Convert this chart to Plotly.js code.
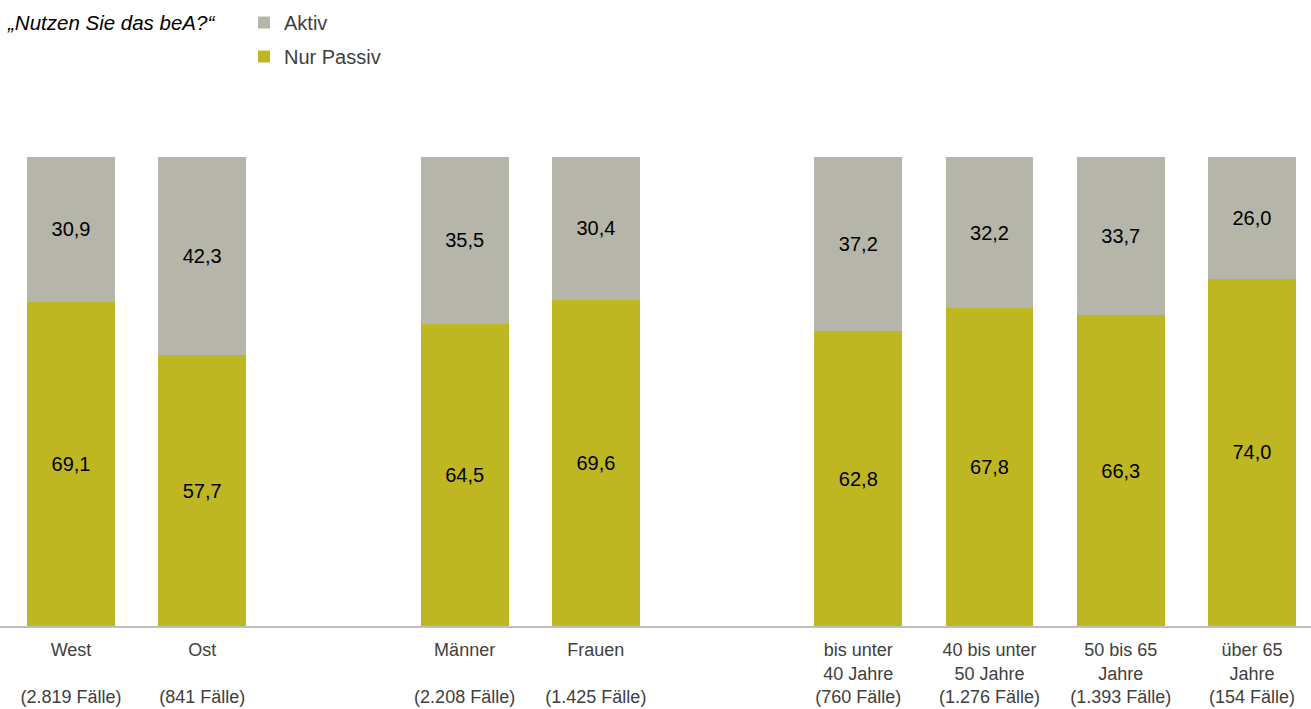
<!DOCTYPE html>
<html>
<head>
<meta charset="utf-8">
<script src="https://cdn.plot.ly/plotly-3.0.1.min.js"></script>
<style>html,body{margin:0;padding:0;background:#fff;}#chart{width:1311px;height:709px;}</style>
</head>
<body>
<div id="chart"></div>
<script>
// Data
const positions = [0, 1, 3, 4, 6, 7, 8, 9];
const categories = [
  "West<br> <br>(2.819 Fälle)",
  "Ost<br> <br>(841 Fälle)",
  "Männer<br> <br>(2.208 Fälle)",
  "Frauen<br> <br>(1.425 Fälle)",
  "bis unter<br>40 Jahre<br>(760 Fälle)",
  "40 bis unter<br>50 Jahre<br>(1.276 Fälle)",
  "50 bis 65<br>Jahre<br>(1.393 Fälle)",
  "über 65<br>Jahre<br>(154 Fälle)"
];
const nurPassiv = [69.1, 57.7, 64.5, 69.6, 62.8, 67.8, 66.3, 74.0];
const aktiv = [30.9, 42.3, 35.5, 30.4, 37.2, 32.2, 33.7, 26.0];

const FONT = "Liberation Sans, Arial, sans-serif";

const traces = [
  {
    type: "bar", name: "Nur Passiv", x: positions, y: nurPassiv,
    marker: {color: "#BFB722"}, width: 0.67,
    texttemplate: "%{y:.1f}", textposition: "inside", insidetextanchor: "middle",
    textfont: {family: FONT, size: 20, color: "#000000"},
    legendgroup: "b", legendrank: 2, hoverinfo: "y"
  },
  {
    type: "bar", name: "Aktiv", x: positions, y: aktiv,
    marker: {color: "#B5B5A9"}, width: 0.67,
    texttemplate: "%{y:.1f}", textposition: "inside", insidetextanchor: "middle",
    textfont: {family: FONT, size: 20, color: "#000000"},
    legendgroup: "a", legendrank: 1, hoverinfo: "y"
  }
];

const layout = {
  width: 1311, height: 709,
  margin: {l: 0, r: 0, t: 157, b: 83, pad: 0, autoexpand: false},
  paper_bgcolor: "#ffffff", plot_bgcolor: "#ffffff",
  separators: ",.",
  barmode: "stack",
  font: {family: FONT, size: 20, color: "#404040"},
  title: {
    text: "<i>„Nutzen Sie das beA?“</i>",
    font: {family: FONT, size: 20.5, color: "#000000"},
    x: 8 / 1311, xanchor: "left", xref: "container",
    y: 1 - 23 / 709, yanchor: "middle", yref: "container"
  },
  showlegend: true,
  legend: {
    x: 244 / 1311, xanchor: "left", xref: "container",
    y: 1 - 3 / 709, yanchor: "top", yref: "container",
    traceorder: "grouped", tracegroupgap: 5,
    font: {family: FONT, size: 20, color: "#404040"},
    bgcolor: "rgba(0,0,0,0)", itemwidth: 30
  },
  xaxis: {
    range: [-0.541, 9.45],
    tickmode: "array", tickvals: positions, ticktext: categories,
    tickangle: 0, automargin: false, ticklabelstandoff: 7,
    ticks: "", showgrid: false, zeroline: false,
    showline: true, linecolor: "#BFBFBF", linewidth: 1.5,
    tickfont: {family: FONT, size: 18, color: "#404040"},
    fixedrange: true
  },
  yaxis: {
    range: [0, 100], visible: false, showgrid: false, zeroline: false, fixedrange: true, automargin: false
  }
};

Plotly.newPlot("chart", traces, layout, {displayModeBar: false, staticPlot: true});
</script>
</body>
</html>
